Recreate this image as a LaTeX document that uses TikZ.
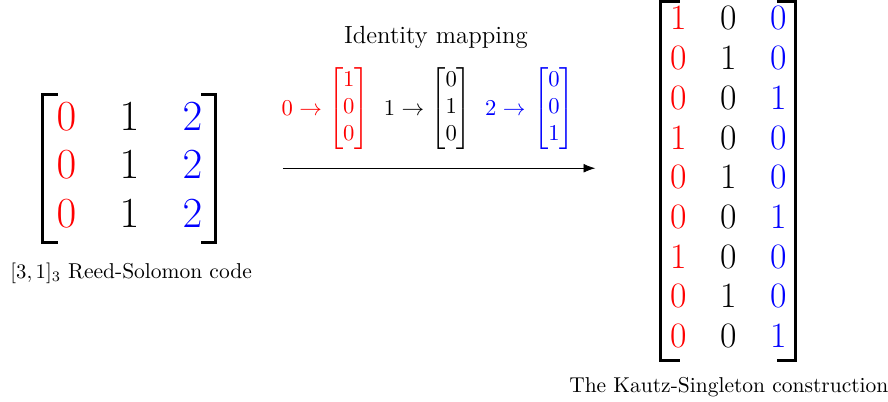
\documentclass[tikz,border=0pt]{standalone}
\usepackage{amsmath,amssymb}
\usepackage{xcolor}
\usetikzlibrary{arrows.meta,positioning,matrix}

\begin{document}
\begin{tikzpicture}[
  codemat/.style={matrix of math nodes, inner sep=0pt,
    column 1/.style={nodes={text=red}}, column 3/.style={nodes={text=blue}}},
  rsmat/.style={codemat, font=\huge, column sep=0.47cm, inner xsep=0.094cm, inner ysep=0.02cm,
    nodes={inner sep=0pt, text height=13.4pt, text depth=3.5pt, minimum height=0.82cm, minimum width=0.6cm}},
  ksmat/.style={codemat, font=\LARGE, column sep=0.35cm, inner xsep=0.04cm, inner ysep=0pt,
    nodes={inner sep=0pt, text height=11.1pt, text depth=3.6pt, minimum height=0.675cm, minimum width=0.5cm}},
  brk/.style={line width=1.4pt},
  vecnode/.style={font=\fontsize{11}{13.2}\selectfont},
  caption/.style={align=center, font=\fontsize{10.4}{12.5}\selectfont},
  flow/.style={-{Latex[length=2mm]}}
]
\useasboundingbox (0,0) rectangle (15.096,-6.834);

% Reed-Solomon code
\matrix[rsmat] (rs) at (2.2,-2.865) {
  0 & 1 & 2 \\
  0 & 1 & 2 \\
  0 & 1 & 2 \\
};
\draw[brk] (rs.north west) ++(0.25,0) -- (rs.north west) -- (rs.south west) -- ++(0.25,0);
\draw[brk] (rs.north east) ++(-0.25,0) -- (rs.north east) -- (rs.south east) -- ++(-0.25,0);
\node[caption] (rslabel) at (2.23,-4.64) {$[3,1]_3$ Reed-Solomon code};

% identity mapping
\node[caption, font=\large] (idlabel) at (7.41,-0.63) {Identity mapping};
\node[vecnode, text=red] (map0) at (5.13,-1.84) {$0 \rightarrow$};
\node[vecnode, text=red] (vec0) at (5.93,-1.84) {$\begin{bmatrix}1\\0\\0\end{bmatrix}$};
\node[vecnode] (map1) at (6.87,-1.84) {$1 \rightarrow$};
\node[vecnode] (vec1) at (7.67,-1.84) {$\begin{bmatrix}0\\1\\0\end{bmatrix}$};
\node[vecnode, text=blue] (map2) at (8.59,-1.84) {$2 \rightarrow$};
\node[vecnode, text=blue] (vec2) at (9.42,-1.84) {$\begin{bmatrix}0\\0\\1\end{bmatrix}$};

\coordinate (arrfrom) at (4.81,-2.86);
\coordinate (arrto) at (10.12,-2.86);
\draw[flow] (arrfrom) -- (arrto);

% Kautz-Singleton construction
\matrix[ksmat] (ks) at (12.38,-3.077) {
  1 & 0 & 0 \\
  0 & 1 & 0 \\
  0 & 0 & 1 \\
  1 & 0 & 0 \\
  0 & 1 & 0 \\
  0 & 0 & 1 \\
  1 & 0 & 0 \\
  0 & 1 & 0 \\
  0 & 0 & 1 \\
};
\draw[brk] (ks.north west) ++(0.32,0) -- (ks.north west) -- (ks.south west) -- ++(0.32,0);
\draw[brk] (ks.north east) ++(-0.32,0) -- (ks.north east) -- (ks.south east) -- ++(-0.32,0);
\node[caption] (kslabel) at (12.39,-6.58) {The Kautz-Singleton construction};
\end{tikzpicture}
\end{document}
